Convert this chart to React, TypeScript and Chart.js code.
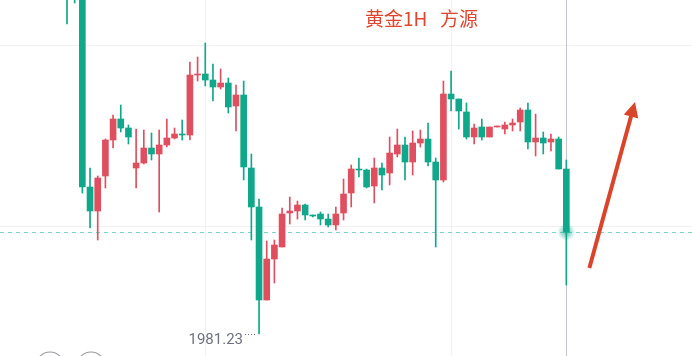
import React, { useEffect, useRef } from "react";
import { Chart, registerables } from "chart.js";

Chart.register(...registerables);

// Gold 1H candles (oldest -> newest)
const opens = [
  2023.47, 2018.52, 2018.19, 1997.40, 1994.76, 1998.61, 2002.57, 2004.88, 2003.89, 1999.49,
  2000.04, 2001.69, 2001.03, 2002.02, 2002.79, 2003.23, 2003.12, 2009.72, 2009.83, 2009.17,
  2008.40, 2008.84, 2006.31, 2007.52, 1999.49, 1995.20, 1984.97, 1989.48, 1990.80, 1994.54,
  1994.76, 1995.42, 1994.32, 1994.43, 1993.88, 1993.22, 1994.54, 1996.74, 1999.38, 1999.27,
  1997.51, 1999.49, 1998.94, 2001.03, 2002.02, 2000.15, 2002.24, 2002.68, 2000.15, 1998.17,
  2007.63, 2007.08, 2005.65, 2002.90, 2004.00, 2002.90, 2004.00, 2003.78, 2004.22, 2004.55,
  2005.87, 2002.35, 2002.79, 2002.35, 2002.68, 1999.38,
];
const highs = [
  2024.57, 2019.07, 2018.41, 1999.49, 1998.61, 2002.68, 2005.32, 2006.42, 2004.22, 2003.78,
  2003.67, 2003.34, 2003.67, 2004.88, 2003.89, 2004.77, 2011.15, 2011.70, 2013.24, 2010.93,
  2010.38, 2009.39, 2008.62, 2009.06, 2001.03, 1996.08, 1991.46, 1991.57, 1995.09, 1996.30,
  1995.86, 1995.53, 1994.32, 1994.65, 1994.43, 1995.20, 1998.28, 1999.82, 2000.59, 1999.38,
  2000.59, 2000.04, 2002.90, 2003.78, 2002.90, 2003.56, 2003.67, 2004.44, 2000.59, 2009.06,
  2010.16, 2007.08, 2006.64, 2004.33, 2004.88, 2004.00, 2004.11, 2004.55, 2004.88, 2006.09,
  2006.64, 2005.43, 2003.45, 2003.23, 2002.90, 2000.37,
];
const lows = [
  2015.33, 2017.64, 1996.74, 1992.89, 1991.57, 1997.29, 2001.69, 2003.45, 2002.13, 1997.29,
  1999.93, 2000.37, 1994.65, 2001.80, 2002.68, 2002.57, 2002.57, 2009.06, 2008.51, 2006.86,
  2008.18, 2005.54, 2003.56, 1998.17, 1991.57, 1981.23, 1984.97, 1986.84, 1990.80, 1993.33,
  1993.88, 1993.77, 1994.10, 1993.22, 1993.00, 1992.67, 1993.77, 1995.20, 1998.50, 1997.29,
  1995.64, 1997.07, 1997.62, 2000.70, 1998.17, 1998.72, 2001.80, 1999.71, 1990.80, 1997.95,
  2005.76, 2003.78, 2002.68, 2002.13, 2002.57, 2002.90, 2004.00, 2003.23, 2003.56, 2003.56,
  2001.58, 2000.81, 2001.03, 2001.36, 1999.38, 1986.62,
];
const closes = [
  2018.52, 2018.19, 1997.40, 1994.76, 1998.39, 2002.57, 2004.88, 2003.89, 2002.90, 2000.04,
  2001.69, 2001.03, 2002.02, 2002.79, 2003.23, 2003.12, 2009.72, 2009.83, 2009.17, 2008.40,
  2008.84, 2006.20, 2007.52, 1999.60, 1995.20, 1984.97, 1989.48, 1991.02, 1994.43, 1994.76,
  1995.42, 1994.32, 1994.21, 1993.88, 1993.22, 1994.43, 1996.63, 1999.38, 1999.27, 1997.40,
  1999.49, 1998.72, 2001.14, 2002.02, 2000.15, 2002.24, 2002.68, 2000.15, 1998.17, 2007.63,
  2007.08, 2005.76, 2002.90, 2003.89, 2002.90, 2004.00, 2004.11, 2004.22, 2004.44, 2005.87,
  2002.35, 2002.79, 2002.24, 2002.68, 1999.38, 1992.45,
];
const candleIndex = opens.map((_, i) => i);
const gridPrices = [1993, 2013];
const gridCandles = [18, 50];
const titleMain = "黄金1H";
const titleAuthor = "方源";
// arrow annotation in data coordinates: [candle index, price]
const arrowTail = [68, 1988.49];
const arrowTip = [73.94, 2006.75];

const RED = "#e04f5f";
const GREEN = "#0fa88a";

const overlay = {
  id: "overlay",
  beforeDatasetsDraw(chart: any) {
    const { ctx, chartArea, scales } = chart;
    const xs = scales.x;
    const ys = scales.y;
    const last = closes.length - 1;
    const cx = Math.round(xs.getPixelForValue(last)) + 0.5;
    const py = Math.round(ys.getPixelForValue(closes[last])) + 0.5;
    ctx.save();
    ctx.strokeStyle = "#c4c4d0";
    ctx.lineWidth = 1;
    ctx.beginPath();
    ctx.moveTo(cx, chartArea.top);
    ctx.lineTo(cx, chartArea.bottom);
    ctx.stroke();
    ctx.strokeStyle = "#7dd4c1";
    ctx.setLineDash([4, 4]);
    ctx.beginPath();
    ctx.moveTo(chartArea.left, py);
    ctx.lineTo(chartArea.right, py);
    ctx.stroke();
    ctx.restore();
  },
  afterDatasetsDraw(chart: any) {
    const { ctx, scales } = chart;
    const xs = scales.x;
    const ys = scales.y;
    const last = closes.length - 1;
    const cx = xs.getPixelForValue(last);
    const py = ys.getPixelForValue(closes[last]);
    ctx.save();
    // glow dot on last price
    const g = ctx.createRadialGradient(cx, py, 0, cx, py, 9);
    g.addColorStop(0, "rgba(15,168,138,0.9)");
    g.addColorStop(0.3, "rgba(15,168,138,0.5)");
    g.addColorStop(1, "rgba(15,168,138,0)");
    ctx.fillStyle = g;
    ctx.beginPath();
    ctx.arc(cx, py, 9, 0, Math.PI * 2);
    ctx.fill();

    // lowest price marker
    let minI = 0;
    lows.forEach((v, i) => { if (v < lows[minI]) minI = i; });
    const lx = xs.getPixelForValue(minI);
    const ly = Math.round(ys.getPixelForValue(lows[minI])) + 0.5;
    ctx.strokeStyle = "#6e7180";
    ctx.lineWidth = 1;
    ctx.setLineDash([1, 2]);
    ctx.beginPath();
    ctx.moveTo(lx - 14, ly);
    ctx.lineTo(lx - 2, ly);
    ctx.stroke();
    ctx.setLineDash([]);
    ctx.fillStyle = "#6e7180";
    ctx.font = "15px Roboto";
    ctx.textAlign = "right";
    ctx.textBaseline = "middle";
    ctx.fillText(lows[minI].toFixed(2), lx - 16, ly + 6);

    // title
    ctx.fillStyle = "#e0452d";
    ctx.font = "19px 'Noto Sans CJK SC'";
    ctx.textAlign = "left";
    ctx.textBaseline = "middle";
    ctx.fillText(titleMain, 365, 19);
    ctx.fillText(titleAuthor, 440, 19);

    // arrow
    const tx = xs.getPixelForValue(arrowTail[0]);
    const ty = ys.getPixelForValue(arrowTail[1]);
    const hx = xs.getPixelForValue(arrowTip[0]);
    const hy = ys.getPixelForValue(arrowTip[1]);
    const dx = hx - tx, dy = hy - ty;
    const len = Math.hypot(dx, dy);
    const ux = dx / len, uy = dy / len;
    const nx = -uy, ny = ux;
    const bx = hx - ux * 15, by = hy - uy * 15;
    ctx.strokeStyle = "#d9442b";
    ctx.fillStyle = "#d9442b";
    ctx.lineWidth = 4;
    ctx.lineCap = "butt";
    ctx.beginPath();
    ctx.moveTo(tx, ty);
    ctx.lineTo(bx + ux * 2, by + uy * 2);
    ctx.stroke();
    ctx.beginPath();
    ctx.moveTo(hx, hy);
    ctx.lineTo(bx + nx * 7.5, by + ny * 7.5);
    ctx.lineTo(bx - nx * 7.5, by - ny * 7.5);
    ctx.closePath();
    ctx.fill();

    // bottom-left round buttons (cropped)
    ctx.strokeStyle = "#9a9aa2";
    ctx.lineWidth = 1.2;
    [50, 91].forEach((x) => {
      ctx.beginPath();
      ctx.arc(x, 366, 14, 0, Math.PI * 2);
      ctx.stroke();
    });
    ctx.restore();
  },
};

export default function App() {
  const ref = useRef<HTMLCanvasElement | null>(null);
  useEffect(() => {
    if (!ref.current) return;
    const colors = candleIndex.map((i) => (closes[i] >= opens[i] ? RED : GREEN));
    const chart = new Chart(ref.current, {
      type: "bar",
      data: {
        datasets: [
          {
            label: "body",
            data: candleIndex.map((i) => ({ x: i, y: [opens[i], closes[i]] })) as any,
            backgroundColor: colors,
            barThickness: 6,
            minBarLength: 1,
            grouped: false,
            order: 0,
          } as any,
          {
            label: "wick",
            data: candleIndex.map((i) => ({ x: i, y: [lows[i], highs[i]] })) as any,
            backgroundColor: colors,
            barThickness: 1,
            minBarLength: 1,
            grouped: false,
            order: 1,
          } as any,
        ],
      },
      options: {
        animation: false,
        responsive: false,
        events: [],
        layout: { padding: 0 },
        plugins: { legend: { display: false }, tooltip: { enabled: false } },
        scales: {
          x: {
            type: "linear",
            min: -8.72,
            max: 81.36,
            offset: false,
            afterBuildTicks: (s: any) => { s.ticks = gridCandles.map((v) => ({ value: v })); },
            ticks: { display: false },
            border: { display: false },
            grid: { color: "#f1f1f4", drawTicks: false, offset: false },
          },
          y: {
            type: "linear",
            min: 1978.81,
            max: 2017.97,
            afterBuildTicks: (s: any) => { s.ticks = gridPrices.map((v) => ({ value: v })); },
            ticks: { display: false },
            border: { display: false },
            grid: { color: "#f0f0f3", drawTicks: false },
          },
        },
      } as any,
      plugins: [overlay],
    });
    return () => chart.destroy();
  }, []);
  return (
    <div style={{ position: "fixed", left: 0, top: 0, width: 692, height: 356, background: "#fff" }}>
      <canvas ref={ref} width={692} height={356} style={{ display: "block" }} />
    </div>
  );
}
